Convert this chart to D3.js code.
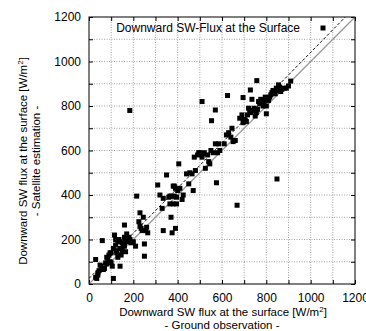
<!DOCTYPE html>
<html>
<head>
<meta charset="utf-8">
<script src="https://cdn.jsdelivr.net/npm/d3@7"></script>
<style>
  body { margin: 0; background: #fff; }
  svg { font-family: 'Liberation Sans', Arial, sans-serif; }
</style>
</head>
<body>
<div class="result"></div>
<script>
// Data: ground observation (x) vs satellite estimation (y), W/m2
const groundObs = [
  30, 35, 40, 45, 50, 55, 40, 30, 60, 65, 70, 75, 80, 80, 85, 90, 95, 95, 100, 100,
  105, 110, 110, 115, 120, 120, 125, 125, 130, 130, 135, 140, 140, 140, 145, 150, 150, 155, 160, 160,
  160, 165, 165, 170, 170, 175, 180, 185, 190, 200, 210, 215, 225, 230, 230, 235, 240, 245, 250, 250,
  255, 260, 265,
  310, 320, 330, 335, 335, 350, 360, 365, 365, 370, 372, 375, 380, 380, 385, 385, 390, 390, 395, 395,
  400, 405, 410, 420, 425, 440, 450, 455, 465, 470, 475, 480, 490, 495, 500, 505, 510, 515, 520, 525,
  535, 540, 545, 550, 560, 570, 575, 580, 585, 590,
  610, 620, 630, 640, 645, 650, 660, 668, 680, 690, 695, 700, 705, 710, 715, 720, 725, 730, 735, 740,
  745, 750, 755, 760, 765, 770, 775, 780, 785, 790, 795, 800, 800, 810, 815, 820, 825, 830, 840, 845,
  850, 855, 860, 865, 870, 880, 890, 900, 910, 848, 757, 728, 695, 625, 510, 570, 553, 184
];
const satEst = [
  110, 25, 40, 60, 85, 80, 50, 30, 195, 65, 70, 95, 90, 120, 110, 130, 140, 100, 95, 140,
  80, 160, 25, 220, 175, 200, 150, 140, 190, 120, 200, 160, 80, 190, 130, 185, 150, 175, 210, 265,
  170, 200, 145, 225, 190, 195, 210, 200, 185, 190, 170, 395, 280, 320, 260, 250, 240, 300, 180, 125,
  240, 255, 230,
  445, 400, 340, 385, 240, 490, 390, 395, 360, 300, 395, 230, 360, 440, 395, 440, 250, 430, 360, 390,
  420, 540, 430, 380, 400, 495, 450, 500, 495, 420, 570, 510, 580, 590, 590, 585, 570, 585, 590, 520,
  580, 550, 540, 600, 590, 630, 455, 590, 630, 600,
  630, 670, 680, 660, 700, 640, 645, 354, 745, 760, 725, 740, 735, 730, 760, 790, 780, 770, 830, 780,
  790, 755, 770, 785, 820, 810, 830, 815, 800, 820, 840, 765, 800, 825, 840, 850, 860, 870, 855, 880,
  870, 895, 885, 865, 875, 880, 880, 890, 912, 472, 914, 872, 838, 847, 820, 782, 734, 780
];

// Regression line (intercept, slope) and axis ticks
const fitLine = [25, 1.016];
const gridValues = d3.range(0, 1201, 100);
const tickLabels = [0, 200, 400, 600, 800, 1000, 1200];

const title = 'Downward SW-Flux at the Surface';
const xLabel = ['Downward SW flux at the surface [W/m', '2', ']'];
const xSub = '- Ground observation -';
const yLabel = ['Downward SW flux at the surface [W/m', '2', ']'];
const ySub = '- Satellite estimation -';

// Size and plot area
const w = 366;
const h = 331;
const pLeft = 89, pRight = 355, pTop = 17, pBottom = 284;
const fs = '12px';
const lfs = '11.5px';

const svg = d3.select('.result')
  .append('svg')
  .attr('width', w)
  .attr('height', h);

const xScale = d3.scaleLinear().domain([0, 1200]).range([pLeft, pRight]);
const yScale = d3.scaleLinear().domain([0, 1200]).range([pBottom, pTop]);

// Grid (dotted)
const grid = svg.append('g')
  .attr('stroke', '#8a8a8a')
  .attr('stroke-width', 0.8)
  .attr('stroke-dasharray', '1,1.5');
grid.selectAll('.gx')
  .data(gridValues.slice(1, -1))
  .enter().append('line')
  .attr('x1', d => xScale(d)).attr('x2', d => xScale(d))
  .attr('y1', pTop).attr('y2', pBottom);
grid.selectAll('.gy')
  .data(gridValues.slice(1, -1))
  .enter().append('line')
  .attr('y1', d => yScale(d)).attr('y2', d => yScale(d))
  .attr('x1', pLeft).attr('x2', pRight);

// Axes: ticks inward on all four sides
const xBottom = d3.axisBottom(xScale).tickValues(gridValues).tickSize(-4).tickFormat(d => tickLabels.includes(d) ? d : '').tickPadding(9);
const xTop = d3.axisTop(xScale).tickValues(gridValues).tickSize(-4).tickFormat('');
const yLeft = d3.axisLeft(yScale).tickValues(gridValues).tickSize(-4).tickFormat(d => tickLabels.includes(d) ? d : '').tickPadding(8);
const yRight = d3.axisRight(yScale).tickValues(gridValues).tickSize(-4).tickFormat('');

function styleAxis(g) {
  g.select('.domain').remove();
  g.selectAll('.tick line').attr('stroke', '#000');
  g.selectAll('.tick text')
    .attr('fill', '#000')
    .style('font-family', "'Liberation Sans', Arial, sans-serif")
    .style('font-size', fs);
}

svg.append('g').attr('transform', 'translate(0,' + pBottom + ')').call(xBottom).call(styleAxis);
svg.append('g').attr('transform', 'translate(0,' + pTop + ')').call(xTop).call(styleAxis);
svg.append('g').attr('transform', 'translate(' + pLeft + ',0)').call(yLeft).call(styleAxis);
svg.append('g').attr('transform', 'translate(' + pRight + ',0)').call(yRight).call(styleAxis);

// Clip for lines
svg.append('clipPath').attr('id', 'plotclip')
  .append('rect').attr('x', pLeft).attr('y', pTop).attr('width', pRight - pLeft).attr('height', pBottom - pTop);

// y = x line (gray)
svg.append('line')
  .attr('clip-path', 'url(#plotclip)')
  .attr('x1', xScale(0)).attr('y1', yScale(0))
  .attr('x2', xScale(1200)).attr('y2', yScale(1200))
  .attr('stroke', '#9a9a9a')
  .attr('stroke-width', 1.3);

// Regression line (dashed)
const xEnd = (1200 - fitLine[0]) / fitLine[1];
svg.append('line')
  .attr('clip-path', 'url(#plotclip)')
  .attr('x1', xScale(0)).attr('y1', yScale(fitLine[0]))
  .attr('x2', xScale(xEnd)).attr('y2', yScale(1200))
  .attr('stroke', '#111')
  .attr('stroke-width', 1)
  .attr('stroke-dasharray', '3,2');

// Points
const pts = groundObs.map((d, i) => [d, satEst[i]]);
const s = 5;
svg.append('g').selectAll('rect')
  .data(pts)
  .enter().append('rect')
  .attr('x', d => xScale(d[0]) - s / 2)
  .attr('y', d => yScale(d[1]) - s / 2)
  .attr('width', s)
  .attr('height', s)
  .attr('fill', '#000');

// Frame
svg.append('rect')
  .attr('x', pLeft).attr('y', pTop)
  .attr('width', pRight - pLeft).attr('height', pBottom - pTop)
  .attr('fill', 'none')
  .attr('stroke', '#000')
  .attr('stroke-width', 1);

// Legend
svg.append('text')
  .attr('x', 300).attr('y', 32)
  .attr('text-anchor', 'end')
  .style('font-size', fs)
  .text(title);
svg.append('rect')
  .attr('x', 323 - s / 2).attr('y', 28 - s / 2)
  .attr('width', s).attr('height', s)
  .attr('fill', '#000');

// X axis label
const xl = svg.append('text')
  .attr('x', (pLeft + pRight) / 2 + 1).attr('y', 316)
  .attr('text-anchor', 'middle')
  .style('font-size', lfs);
xl.append('tspan').text(xLabel[0]);
xl.append('tspan').attr('dy', -4).style('font-size', '8px').text(xLabel[1]);
xl.append('tspan').attr('dy', 4).text(xLabel[2]);
svg.append('text')
  .attr('x', (pLeft + pRight) / 2).attr('y', 329)
  .attr('text-anchor', 'middle')
  .style('font-size', lfs)
  .text(xSub);

// Y axis label
const yl = svg.append('text')
  .attr('transform', 'translate(27,161) rotate(-90)')
  .attr('text-anchor', 'middle')
  .style('font-size', lfs);
yl.append('tspan').text(yLabel[0]);
yl.append('tspan').attr('dy', -4).style('font-size', '8px').text(yLabel[1]);
yl.append('tspan').attr('dy', 4).text(yLabel[2]);
svg.append('text')
  .attr('transform', 'translate(40,161) rotate(-90)')
  .attr('text-anchor', 'middle')
  .style('font-size', lfs)
  .text(ySub);
</script>
</body>
</html>
